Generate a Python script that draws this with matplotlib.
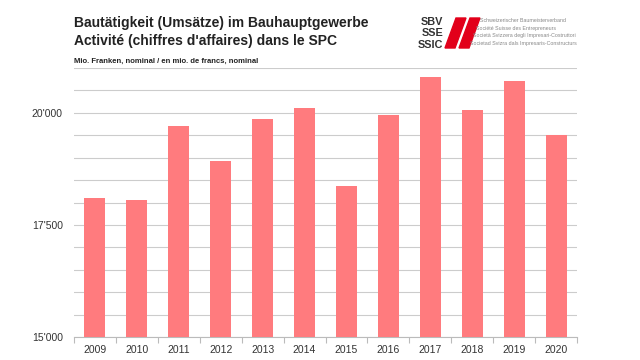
import matplotlib
matplotlib.use('Agg')

import matplotlib.pyplot as plt
from matplotlib.patches import Polygon
from matplotlib.ticker import FuncFormatter, MultipleLocator

plt.rcParams['font.family'] = ['Liberation Sans', 'DejaVu Sans']

years = ['2009', '2010', '2011', '2012', '2013', '2014',
         '2015', '2016', '2017', '2018', '2019', '2020']
turnover = [18100, 18050, 19700, 18925, 19855, 20105,
            18360, 19960, 20790, 20060, 20700, 19500]

title = 'Bautätigkeit (Umsätze) im Bauhauptgewerbe\nActivité (chiffres d\'affaires) dans le SPC'
subtitle = 'Mio. Franken, nominal / en mio. de francs, nominal'
logo_abbr = ['SBV', 'SSE', 'SSIC']
logo_names = ['Schweizerischer Baumeisterverband',
              'Société Suisse des Entrepreneurs',
              'Società Svizzera degli Impresari-Costruttori',
              'Societad Svizra dals Impresaris-Constructurs']

W, H = 640, 360
fig = plt.figure(figsize=(6.4, 3.6), dpi=100)
ax = fig.add_axes([74 / W, 1 - 337 / H, 503 / W, 269 / H])

x = list(range(len(years)))
ax.bar(x, turnover, width=0.5, color='#ff7b7e', zorder=3)

ax.set_xlim(-0.5, len(years) - 0.5)
ax.set_ylim(15000, 21000)
ax.yaxis.set_major_locator(MultipleLocator(2500))
ax.yaxis.set_minor_locator(MultipleLocator(500))
ax.yaxis.set_major_formatter(FuncFormatter(lambda v, p: f'{int(v):,}'.replace(',', "'")))
ax.grid(axis='y', which='both', color='#cccccc', linewidth=0.8, zorder=0)

ax.set_xticks(x)
ax.set_xticklabels(years)
ax.set_xticks([i - 0.5 for i in range(len(years) + 1)], minor=True)
ax.tick_params(axis='x', which='major', length=0, labelsize=7.5, colors='#333333', pad=6)
ax.tick_params(axis='x', which='minor', length=4, color='#bbbbbb', width=0.8)
ax.tick_params(axis='y', which='both', length=0, labelsize=7.5, colors='#333333', pad=8)

for side in ['left', 'right', 'top']:
    ax.spines[side].set_visible(False)
ax.spines['bottom'].set_color('#bbbbbb')
ax.spines['bottom'].set_linewidth(0.8)

fig.text(74 / W, 1 - 16 / H, title, ha='left', va='top', fontsize=10,
         fontweight='bold', color='#222222', linespacing=1.32)
fig.text(74 / W, 1 - 61.5 / H, subtitle, ha='left', va='center', fontsize=5.5,
         fontweight='bold', color='#222222')

# logo
for i, t in enumerate(logo_abbr):
    fig.text(443 / W, 1 - (22 + 11.5 * i) / H, t, ha='right', va='center',
             fontsize=7.8, fontweight='bold', color='#333333')
for dx in [0, 14]:
    pts = [(445 + dx, 48), (455 + dx, 48), (466 + dx, 18), (456 + dx, 18)]
    fig.patches.append(Polygon([(px / W, 1 - py / H) for px, py in pts], closed=True,
                               transform=fig.transFigure, color='#e2001a'))
for i, t in enumerate(logo_names):
    fig.text((480 - 3.5 * i) / W, 1 - (21 + 7.5 * i) / H, t, ha='left', va='center',
             fontsize=3.8, color='#888888')

fig.savefig('out.png', dpi=100)
